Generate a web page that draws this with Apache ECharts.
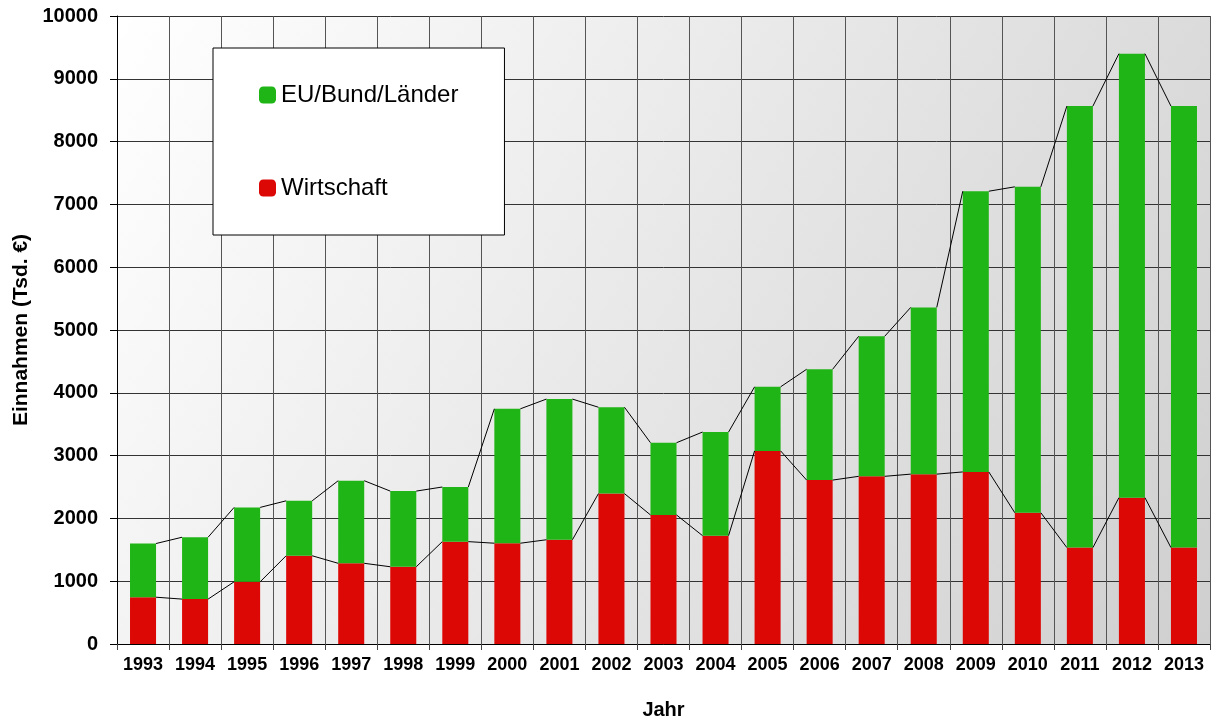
<!DOCTYPE html>
<html>
<head>
<meta charset="utf-8">
<script src="https://cdn.jsdelivr.net/npm/echarts@6/dist/echarts.min.js"></script>
<style>
html,body{margin:0;padding:0;background:#fff;}
#chart{width:1212px;height:725px;}
</style>
</head>
<body>
<div id="chart"></div>
<script>
const years = ['1993','1994','1995','1996','1997','1998','1999','2000','2001','2002','2003','2004','2005','2006','2007','2008','2009','2010','2011','2012','2013'];
const wirtschaft = [745,715,990,1405,1285,1230,1630,1605,1660,2395,2055,1725,3075,2610,2670,2705,2740,2090,1535,2330,1535];
const euBundLaender = [855,985,1185,875,1315,1205,870,2140,2240,1375,1150,1650,1020,1765,2230,2655,4470,5190,7030,7070,7030];
const yTicks = [0,1000,2000,3000,4000,5000,6000,7000,8000,9000,10000];

const totals = wirtschaft.map((w, i) => w + euBundLaender[i]);

function seriesLineData(vals) {
  const out = [];
  for (let i = 0; i < vals.length - 1; i++) out.push([i, vals[i], vals[i + 1]]);
  return out;
}

function renderSeriesLine(params, api) {
  const i = api.value(0);
  const half = api.size([1, 0])[0] * 0.25;
  const p1 = api.coord([i, api.value(1)]);
  const p2 = api.coord([i + 1, api.value(2)]);
  return {
    type: 'line',
    shape: { x1: p1[0] + half, y1: p1[1], x2: p2[0] - half, y2: p2[1] },
    style: { stroke: '#000', lineWidth: 1 }
  };
}

const chart = echarts.init(document.getElementById('chart'), null, { renderer: 'canvas' });
chart.setOption({
  animation: false,
  backgroundColor: '#ffffff',
  textStyle: { fontFamily: '"Liberation Sans", Arial, sans-serif' },
  grid: {
    left: 117, right: 2, top: 16, bottom: 79,
    show: true,
    borderWidth: 0,
    backgroundColor: {
      type: 'linear', x: 0, y: 0, x2: 1, y2: 1,
      colorStops: [{ offset: 0, color: '#ffffff' }, { offset: 1, color: '#cfcfcf' }]
    }
  },
  legend: {
    data: ['EU/Bund/Länder', 'Wirtschaft'],
    orient: 'vertical',
    left: 213, top: 48,
    padding: [35, 46, 35, 46],
    itemGap: 69,
    itemWidth: 17, itemHeight: 17,
    icon: 'roundRect',
    backgroundColor: '#ffffff',
    borderColor: '#000000',
    borderWidth: 1,
    textStyle: { fontSize: 24, color: '#000', fontFamily: '"Liberation Sans", Arial, sans-serif' }
  },
  xAxis: {
    type: 'category',
    data: years,
    boundaryGap: true,
    name: 'Jahr',
    nameLocation: 'middle',
    nameGap: 56,
    nameTextStyle: { fontSize: 20, fontWeight: 'bold', color: '#000' },
    axisLine: { show: true, lineStyle: { color: '#000', width: 1 } },
    axisTick: { show: true, length: 6, lineStyle: { color: '#444' } },
    axisLabel: { fontSize: 18, fontWeight: 'bold', color: '#000', margin: 12, interval: 0 },
    splitLine: { show: true, lineStyle: { color: '#555', width: 1 } }
  },
  yAxis: {
    type: 'value',
    min: yTicks[0], max: yTicks[yTicks.length - 1], interval: 1000,
    name: 'Einnahmen (Tsd. €)',
    nameLocation: 'middle',
    nameGap: 82,
    nameTextStyle: { fontSize: 21, fontWeight: 'bold', color: '#000' },
    axisLine: { show: true, lineStyle: { color: '#000', width: 1 } },
    axisTick: { show: true, length: 7, lineStyle: { color: '#000' } },
    axisLabel: { fontSize: 20, fontWeight: 'bold', color: '#000', margin: 19, formatter: v => String(v) },
    splitLine: { show: true, lineStyle: { color: '#333', width: 1 } }
  },
  series: [
    {
      name: 'Wirtschaft', type: 'bar', stack: 'total', barWidth: '50%',
      data: wirtschaft,
      itemStyle: { color: '#dc0806' }
    },
    {
      name: 'EU/Bund/Länder', type: 'bar', stack: 'total', barWidth: '50%',
      data: euBundLaender,
      itemStyle: { color: '#20b516' }
    },
    {
      name: 'linesTotal', type: 'custom', silent: true, z: 5,
      renderItem: renderSeriesLine,
      encode: { x: 0, y: [1, 2] },
      data: seriesLineData(totals)
    },
    {
      name: 'linesWirtschaft', type: 'custom', silent: true, z: 5,
      renderItem: renderSeriesLine,
      encode: { x: 0, y: [1, 2] },
      data: seriesLineData(wirtschaft)
    }
  ]
});
</script>
</body>
</html>
